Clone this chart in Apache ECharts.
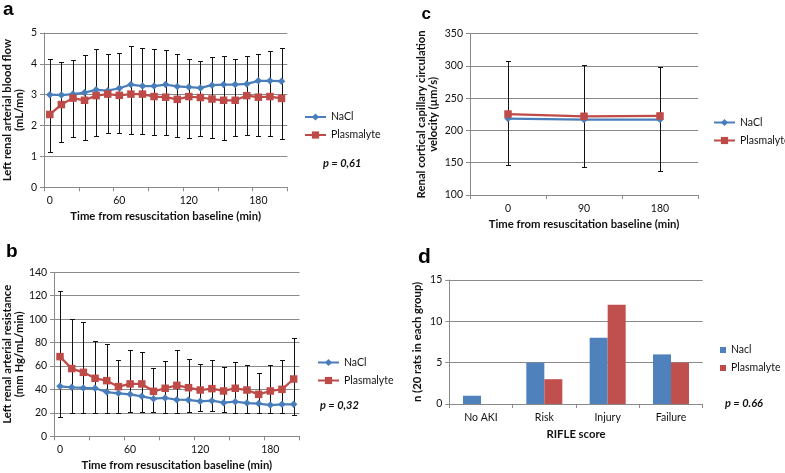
<!DOCTYPE html>
<html><head><meta charset="utf-8">
<script src="https://cdn.jsdelivr.net/npm/echarts@6/dist/echarts.min.js"></script>
<style>html,body{margin:0;padding:0;background:#fff}#c{width:785px;height:473px}</style>
</head><body><div id="c"></div>
<script>
// ---------- data ----------
const timeCats = ['0','10','20','30','40','50','60','70','80','90','100','110','120','130','140','150','160','170','180','190','200'];
const flowNaCl   = [3.00, 2.99, 3.02, 3.07, 3.16, 3.13, 3.21, 3.33, 3.28, 3.28, 3.33, 3.27, 3.25, 3.22, 3.31, 3.33, 3.33, 3.35, 3.45, 3.45, 3.44];
const flowPlasma = [2.36, 2.68, 2.89, 2.82, 2.97, 3.02, 2.98, 3.02, 3.02, 2.94, 2.92, 2.85, 2.94, 2.91, 2.86, 2.82, 2.82, 2.97, 2.92, 2.94, 2.88];
const flowErrHigh = [4.16, 4.07, 4.11, 4.28, 4.47, 4.33, 4.35, 4.58, 4.50, 4.47, 4.44, 4.33, 4.17, 4.10, 4.22, 4.24, 4.17, 4.24, 4.31, 4.41, 4.53];
const flowErrLow  = [1.16, 1.46, 1.62, 1.53, 1.66, 1.75, 1.77, 1.72, 1.72, 1.70, 1.70, 1.63, 1.61, 1.66, 1.59, 1.52, 1.65, 1.71, 1.67, 1.65, 1.55];

const resNaCl   = [42.7, 41.8, 41.3, 41.0, 37.8, 36.7, 35.8, 34.1, 32.1, 32.7, 31.3, 31.0, 29.9, 30.4, 28.7, 29.6, 28.4, 27.9, 26.7, 27.3, 27.3];
const resPlasma = [68.0, 57.8, 54.6, 49.5, 47.5, 42.4, 44.7, 44.7, 38.4, 41.0, 43.5, 41.5, 39.5, 40.7, 38.7, 41.0, 39.5, 35.8, 38.7, 40.1, 48.9];
const resErrHigh = [124.3, 100.4, 97.6, 81.7, 78.8, 65.4, 73.4, 72.3, 58.0, 64.0, 73.4, 66.3, 62.0, 64.9, 59.2, 63.7, 60.9, 54.1, 60.6, 64.9, 83.9];
const resErrLow  = [16.8, 19.8, 19.8, 19.8, 20.0, 20.0, 20.8, 20.5, 20.5, 19.8, 20.0, 20.8, 21.4, 21.2, 20.5, 19.8, 19.8, 19.5, 19.8, 19.5, 18.5];

const velCats = ['0','90','180'];
const velNaCl   = [218.5, 217, 217];
const velPlasma = [225.5, 222, 222.5];
const velErrHigh = [308, 301, 298];
const velErrLow  = [147, 144, 137];

const rifleCats = ['No AKI','Risk','Injury','Failure'];
const rifleNaCl   = [1, 5, 8, 6];
const riflePlasma = [0, 3, 12, 5];

const pValues = ['p = 0,61', 'p = 0,32', 'p = 0.66'];
const panelLetters = ['a','b','c','d'];

// ---------- styles ----------
const FONT = 'Lato, "Open Sans", sans-serif';
const GRID_C = '#8a8a8a';
const TXT = '#111';
const BLUE = '#4A7EBB', RED = '#BE4B48';
const BAR_BLUE = '#4F81BD', BAR_RED = '#C0504D';
const xTitle = 'Time from resuscitation baseline (min)';
const TITLE_FS = 11.3;

function errData(lo, hi){ return lo.map((v,i)=>[i, v, hi[i]]); }
function renderErr(params, api){
  const i = api.value(0);
  const top = api.coord([i, api.value(2)]);
  const bot = api.coord([i, api.value(1)]);
  const x = Math.round(top[0]) + 0.5;
  const yt = Math.round(top[1]) + 0.5, yb = Math.round(bot[1]) + 0.5;
  const w = 2.5;
  const st = {stroke:'#111', lineWidth:1};
  return {type:'group', children:[
    {type:'line', shape:{x1:x, y1:yt, x2:x, y2:yb}, style:st},
    {type:'line', shape:{x1:x-w, y1:yt, x2:x+w, y2:yt}, style:st},
    {type:'line', shape:{x1:x-w, y1:yb, x2:x+w, y2:yb}, style:st}
  ]};
}

function catAxis(gi, cats, opt){
  return Object.assign({
    type:'category', gridIndex:gi, data:cats, boundaryGap:true,
    axisLine:{lineStyle:{color:GRID_C, width:1}},
    axisTick:{show:true, length:4, lineStyle:{color:GRID_C}},
    axisLabel:{color:TXT, fontFamily:FONT, fontSize:10.5, margin:8},
    name: xTitle, nameLocation:'middle', nameGap:23.5,
    nameTextStyle:{color:TXT, fontFamily:FONT, fontWeight:'bold', fontSize:TITLE_FS}
  }, opt);
}
function valAxis(gi, min, max, interval, name, gap){
  return {
    type:'value', gridIndex:gi, min:min, max:max, interval:interval,
    axisLine:{show:true, lineStyle:{color:GRID_C, width:1}},
    axisTick:{show:true, length:4, lineStyle:{color:GRID_C}},
    splitLine:{show:true, lineStyle:{color:GRID_C, width:1}},
    axisLabel:{color:TXT, fontFamily:FONT, fontSize:10.5, margin:7},
    name:name, nameLocation:'middle', nameRotate:90, nameGap:gap,
    nameTextStyle:{color:TXT, fontFamily:FONT, fontWeight:'bold', fontSize:TITLE_FS, lineHeight:12}
  };
}
function lineSeries(name, data, xi, color, symbol, size){
  return {
    type:'line', name:name, data:data, xAxisIndex:xi, yAxisIndex:xi,
    symbol:symbol, symbolSize:size, showAllSymbol:true, z:3,
    lineStyle:{color:color, width:2.25}, itemStyle:{color:color},
    emphasis:{disabled:true}, animation:false
  };
}
function errSeries(xi, lo, hi){
  return {type:'custom', xAxisIndex:xi, yAxisIndex:xi, data:errData(lo,hi),
    encode:{x:0, y:[1,2]}, renderItem:renderErr, z:2, silent:true, animation:false};
}
function lineLegend(left, top){
  return {orient:'vertical', left:left, top:top, padding:0, itemWidth:21, itemHeight:9, itemGap:7,
    textStyle:{fontFamily:FONT, fontSize:10.5, color:TXT},
    data:['NaCl','Plasmalyte'], selectedMode:false};
}

const option = {
  backgroundColor:'#fff',
  animation:false,
  grid:[
    {left:43.3, top:33, width:244, height:154.3},
    {left:53.5, top:272.3, width:246, height:164},
    {left:470, top:33.7, width:228, height:161.3},
    {left:449.3, top:280, width:253.4, height:124}
  ],
  xAxis:[
    catAxis(0, timeCats, {axisTick:{show:true, length:4, interval:2, lineStyle:{color:GRID_C}}, axisLabel:{color:TXT, fontFamily:FONT, fontSize:10.5, margin:8, interval:5}}),
    catAxis(1, timeCats, {axisTick:{show:true, length:4, interval:2, lineStyle:{color:GRID_C}}, axisLabel:{color:TXT, fontFamily:FONT, fontSize:10.5, margin:8, interval:5}}),
    catAxis(2, velCats, {}),
    catAxis(3, rifleCats, {name:'RIFLE score', nameGap:24.5})
  ],
  yAxis:[
    valAxis(0, 0, 5, 1, 'Left renal arterial blood flow\n(mL/mn)', 19),
    valAxis(1, 0, 140, 20, 'Left renal arterial resistance\n(mm Hg/mL/min)', 29),
    valAxis(2, 100, 350, 50, 'Renal cortical capillary circulation\nvelocity (µm/s)', 31),
    valAxis(3, 0, 15, 5, 'n (20 rats in each group)', 26)
  ],
  legend:[
    lineLegend(304, 111.5),
    lineLegend(317, 357),
    lineLegend(713, 117),
    {orient:'vertical', left:720, top:344.5, padding:0, itemWidth:6, itemHeight:6, itemGap:7,
     textStyle:{fontFamily:FONT, fontSize:10.5, color:TXT},
     data:[{name:'Nacl', icon:'rect'},{name:'Plasmalyte', icon:'rect'}], selectedMode:false}
  ],
  series:[
    errSeries(0, flowErrLow, flowErrHigh),
    lineSeries('NaCl', flowNaCl, 0, BLUE, 'diamond', 7.5),
    lineSeries('Plasmalyte', flowPlasma, 0, RED, 'rect', 7.5),
    errSeries(1, resErrLow, resErrHigh),
    lineSeries('NaCl', resNaCl, 1, BLUE, 'diamond', 7.5),
    lineSeries('Plasmalyte', resPlasma, 1, RED, 'rect', 7.5),
    errSeries(2, velErrLow, velErrHigh),
    lineSeries('NaCl', velNaCl, 2, BLUE, 'diamond', 7.5),
    lineSeries('Plasmalyte', velPlasma, 2, RED, 'rect', 7.5),
    {type:'bar', name:'Nacl', data:rifleNaCl, xAxisIndex:3, yAxisIndex:3, barWidth:18, barGap:'0%',
     itemStyle:{color:BAR_BLUE}, animation:false},
    {type:'bar', name:'Plasmalyte', data:riflePlasma, xAxisIndex:3, yAxisIndex:3, barWidth:18, barGap:'0%',
     itemStyle:{color:BAR_RED}, animation:false}
  ],
  graphic:[
    {type:'text', x:3, y:10, style:{text:panelLetters[0], font:'bold 19px "Liberation Sans", Arial, sans-serif', fill:'#000', verticalAlign:'middle'}},
    {type:'text', x:6, y:251.5, style:{text:panelLetters[1], font:'bold 19px "Liberation Sans", Arial, sans-serif', fill:'#000', verticalAlign:'middle'}},
    {type:'text', x:421.5, y:14, style:{text:panelLetters[2], font:'bold 17px "Liberation Sans", Arial, sans-serif', fill:'#000', verticalAlign:'middle'}},
    {type:'text', x:418, y:257.5, style:{text:panelLetters[3], font:'bold 21px "Liberation Sans", Arial, sans-serif', fill:'#000', verticalAlign:'middle'}},
    {type:'text', x:323, y:163, style:{text:pValues[0], font:'italic bold 11px ' + FONT, fill:TXT, verticalAlign:'middle'}},
    {type:'text', x:320, y:405, style:{text:pValues[1], font:'italic bold 11px ' + FONT, fill:TXT, verticalAlign:'middle'}},
    {type:'text', x:725, y:403, style:{text:pValues[2], font:'italic bold 11px ' + FONT, fill:TXT, verticalAlign:'middle'}}
  ]
};

const chart = echarts.init(document.getElementById('c'), null, {renderer:'canvas'});
chart.setOption(option);
</script>
</body></html>
